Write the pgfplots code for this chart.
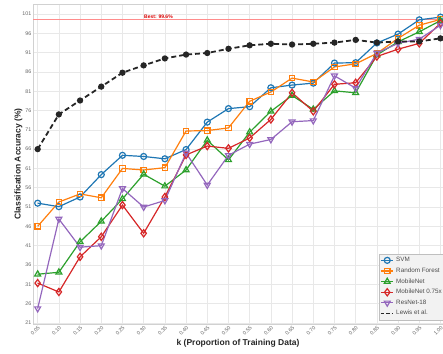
\documentclass[border=0pt]{standalone}
\usepackage{fontspec}
\setmainfont{Liberation Sans}
\usepackage{pgfplots}
\pgfplotsset{compat=1.18}
\definecolor{cSVM}{HTML}{1F77B4}
\definecolor{cRF}{HTML}{FF7F0E}
\definecolor{cMN}{HTML}{2CA02C}
\definecolor{cMNs}{HTML}{D62728}
\definecolor{cRN}{HTML}{9467BD}
\begin{document}
\begin{tikzpicture}
\path[use as bounding box] (0,0) rectangle (443pt,353pt);
\begin{axis}[
  at={(33pt,29pt)}, anchor=south west,
  scale only axis, width=410pt, height=320pt,
  xmin=0.039, xmax=1.006, ymin=20.7, ymax=103.6,
  xtick={0.05,0.10,0.15,0.20,0.25,0.30,0.35,0.40,0.45,0.50,0.55,0.60,0.65,0.70,0.75,0.80,0.85,0.90,0.95,1.00},
  xticklabel={\pgfmathprintnumber[fixed,fixed zerofill,precision=2]{\tick}},
  ytick={21,26,31,36,41,46,51,56,61,66,71,76,81,86,91,96,101},
  /pgf/number format/assume math mode=true,
  grid=major, major grid style={draw=black!9, line width=0.5pt},
  axis line style={draw=black!18},
  major tick length=0pt,
  ticklabel style={font=\fontsize{5.3}{6}\selectfont, text=black!60},
  x tick label style={rotate=45, anchor=north east, inner sep=1pt},
  y tick label style={inner sep=1.5pt},
  xlabel={\bfseries k (Proportion of Training Data)},
  ylabel={\bfseries Classification Accuracy (\%)},
  label style={font=\fontsize{8.5}{10}\selectfont, text=black!85},
  xlabel style={yshift=1pt},
  ylabel style={yshift=-5pt},
  legend style={at={(1.006,0.012)}, anchor=south east, fill=black!5, draw=black!25,
    font=\fontsize{6.3}{7.5}\selectfont, text=black!70, inner sep=1.5pt, row sep=0.6pt},
  legend image code/.code={\draw[mark repeat=2,mark phase=2] plot coordinates {(0cm,0cm) (0.22cm,0cm) (0.44cm,0cm)};},
  legend cell align=left,
  every axis plot/.append style={line width=1.2pt},
]
\addplot[red!45, line width=0.5pt, forget plot] coordinates {(0.039,99.6) (1.006,99.6)}
  node[pos=0.306, above, text=red!85!black, font=\fontsize{5}{6}\selectfont\bfseries, inner sep=1pt] {Best: 99.6\%};
\addplot[cSVM, mark=o, mark size=3pt, mark options={solid, fill=white}] coordinates {
(0.05,52.0) (0.10,51.1) (0.15,53.6) (0.20,59.4) (0.25,64.4) (0.30,64.1) (0.35,63.5) (0.40,65.9) (0.45,73.0) (0.50,76.5)
(0.55,77.0) (0.60,81.9) (0.65,82.6) (0.70,83.1) (0.75,88.3) (0.80,88.4) (0.85,93.5) (0.90,95.8) (0.95,99.5) (1.00,100.2)};
\addlegendentry{SVM}
\addplot[cRF, mark=square, mark size=2.7pt, mark options={solid, fill=white}] coordinates {
(0.05,46.0) (0.10,52.3) (0.15,54.4) (0.20,53.4) (0.25,61.0) (0.30,60.6) (0.35,61.2) (0.40,70.7) (0.45,70.8) (0.50,71.5)
(0.55,78.4) (0.60,80.8) (0.65,84.4) (0.70,83.4) (0.75,87.3) (0.80,88.1) (0.85,90.8) (0.90,94.7) (0.95,98.1) (1.00,99.6)};
\addlegendentry{Random Forest}
\addplot[cMN, mark=triangle, mark size=3.4pt, mark options={solid, fill=white}] coordinates {
(0.05,33.6) (0.10,34.1) (0.15,42.0) (0.20,47.3) (0.25,53.1) (0.30,59.5) (0.35,56.4) (0.40,60.6) (0.45,68.3) (0.50,63.2)
(0.55,70.4) (0.60,75.8) (0.65,79.9) (0.70,76.3) (0.75,81.1) (0.80,80.6) (0.85,90.4) (0.90,93.8) (0.95,96.4) (1.00,99.3)};
\addlegendentry{MobileNet}
\addplot[cMNs, mark=diamond, mark size=3.6pt, mark options={solid, fill=white}] coordinates {
(0.05,31.3) (0.10,29.0) (0.15,38.1) (0.20,43.3) (0.25,51.5) (0.30,44.2) (0.35,53.6) (0.40,64.5) (0.45,66.8) (0.50,66.2)
(0.55,68.9) (0.60,73.7) (0.65,80.6) (0.70,75.8) (0.75,82.8) (0.80,83.2) (0.85,90.0) (0.90,91.9) (0.95,93.4) (1.00,98.6)};
\addlegendentry{MobileNet 0.75x}
\addplot[cRN, mark=triangle, mark size=3.4pt, mark options={solid, fill=white, rotate=180}] coordinates {
(0.05,24.7) (0.10,47.9) (0.15,40.6) (0.20,41.0) (0.25,55.8) (0.30,51.0) (0.35,52.7) (0.40,65.0) (0.45,56.7) (0.50,64.4)
(0.55,67.3) (0.60,68.5) (0.65,73.1) (0.70,73.4) (0.75,85.0) (0.80,81.8) (0.85,90.9) (0.90,93.4) (0.95,94.5) (1.00,98.1)};
\addlegendentry{ResNet-18}
\addplot[black!85, line width=1.8pt, dash pattern=on 5pt off 3pt, mark=*, mark size=2.2pt, mark options={solid}, forget plot] coordinates {
(0.05,66.0) (0.10,75.0) (0.15,78.6) (0.20,82.2) (0.25,85.8) (0.30,87.7) (0.35,89.5) (0.40,90.5) (0.45,90.9) (0.50,92.0)
(0.55,92.9) (0.60,93.3) (0.65,93.1) (0.70,93.3) (0.75,93.6) (0.80,94.3) (0.85,93.6) (0.90,93.9) (0.95,93.9) (1.00,94.7)};
\addlegendimage{black!85, line width=1.5pt, dash pattern=on 3.5pt off 2pt}
\addlegendentry{Lewis et al.}
\end{axis}
\end{tikzpicture}
\end{document}
